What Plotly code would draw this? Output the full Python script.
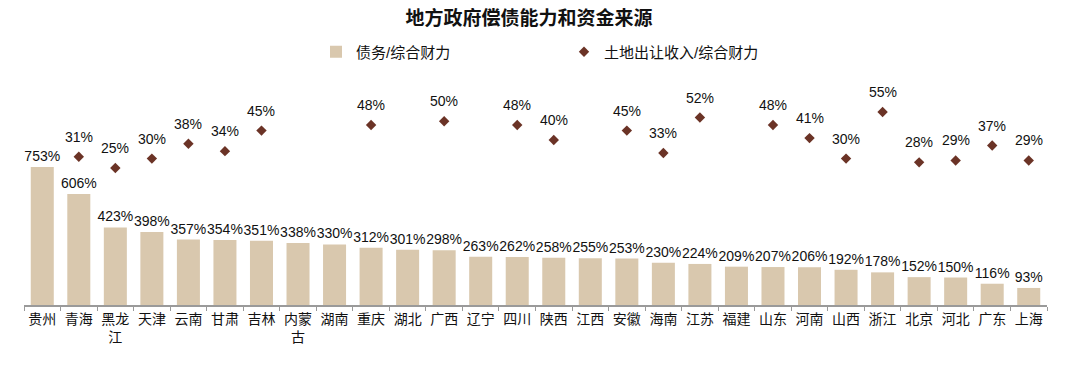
import plotly.graph_objects as go

provinces = ["贵州", "青海", "黑龙<br>江", "天津", "云南", "甘肃", "吉林", "内蒙<br>古", "湖南", "重庆",
             "湖北", "广西", "辽宁", "四川", "陕西", "江西", "安徽", "海南", "江苏", "福建",
             "山东", "河南", "山西", "浙江", "北京", "河北", "广东", "上海"]
debt_ratio = [753, 606, 423, 398, 357, 354, 351, 338, 330, 312,
              301, 298, 263, 262, 258, 255, 253, 230, 224, 209,
              207, 206, 192, 178, 152, 150, 116, 93]
land_ratio = [None, 31, 25, 30, 38, 34, 45, None, None, 48,
              None, 50, None, 48, 40, None, 45, 33, 52, None,
              48, 41, 30, 55, 28, 29, 37, 29]

FONT = "Liberation Sans, Arial, Noto Sans CJK SC, sans-serif"
BAR_COLOR = "#D9C8AE"
DOT_COLOR = "#6B3326"

W, H = 1080, 365

fig = go.Figure()
fig.add_trace(go.Bar(
    x=provinces, y=debt_ratio, name="债务/综合财力",
    marker=dict(color=BAR_COLOR, line=dict(width=0)),
    text=[f"{v}%" for v in debt_ratio], textposition="outside",
    constraintext="none",
    textfont=dict(size=14, color="#111111", family=FONT),
    cliponaxis=False, legend="legend",
))
fig.add_trace(go.Scatter(
    x=provinces, y=land_ratio, name="土地出让收入/综合财力", yaxis="y2",
    mode="markers",
    marker=dict(symbol="diamond", size=8, color=DOT_COLOR),
    cliponaxis=False, legend="legend2",
))

for p, v in zip(provinces, land_ratio):
    if v is None:
        continue
    fig.add_annotation(x=p, y=v, xref="x", yref="y2", text=f"{v}%", showarrow=False,
                       yshift=20, font=dict(size=14, color="#111111", family=FONT))

fig.update_layout(
    width=W, height=H,
    margin=dict(l=16, r=41, t=92, b=68, autoexpand=False),
    plot_bgcolor="white", paper_bgcolor="white",
    font=dict(family=FONT, size=14, color="#111111"),
    title=dict(text="<b>地方政府偿债能力和资金来源</b>", x=521/W, xanchor="center",
               y=1 - 10/H, yanchor="middle", font=dict(size=19, family=FONT, color="#111111")),
    bargap=0.37,
    uniformtext=dict(mode=False),
    xaxis=dict(type="category", range=[-0.5, len(provinces) - 0.5], autorange=False,
               showline=True, linecolor="#9a9a9a", linewidth=1.5,
               ticks="outside", tickson="boundaries", ticklen=4, tickcolor="#9a9a9a",
               tickangle=0, automargin=False,
               tickfont=dict(size=14, family=FONT, color="#111111"), showgrid=False),
    yaxis=dict(range=[0, 1118], visible=False, showgrid=False, automargin=False),
    yaxis2=dict(range=[-48.4, 61.4], overlaying="y", side="right", visible=False,
                showgrid=False, automargin=False),
    legend=dict(orientation="h", xref="container", yref="container", x=308/W, y=1 - 44/H,
                xanchor="left", yanchor="middle", font=dict(size=15, family=FONT), itemwidth=30,
                bgcolor="rgba(0,0,0,0)"),
    legend2=dict(orientation="h", xref="container", yref="container", x=556/W, y=1 - 44/H,
                 xanchor="left", yanchor="middle", font=dict(size=15, family=FONT), itemwidth=30,
                 bgcolor="rgba(0,0,0,0)"),
    showlegend=True,
)

fig.write_html("out.html")
